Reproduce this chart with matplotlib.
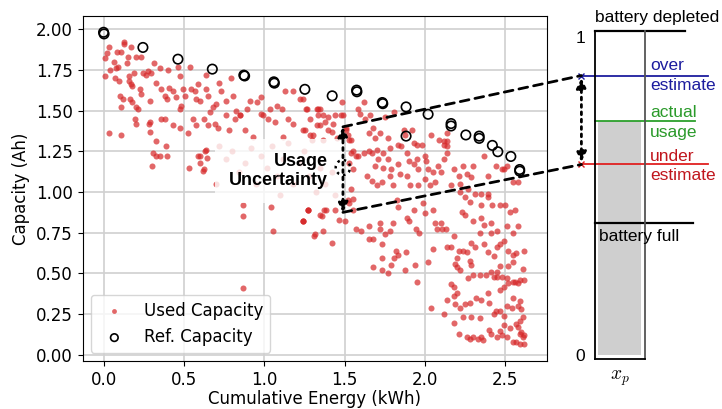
import numpy as np
import matplotlib
matplotlib.use("Agg")
import matplotlib.pyplot as plt
from matplotlib.patches import ConnectionPatch, Ellipse

plt.rcParams['mathtext.fontset'] = 'cm'

# reference capacity (open circles)
ref_energy = [0.0, 0.003, 0.245, 0.463, 0.677, 0.873, 0.878, 1.06, 1.063, 1.253, 1.423,
              1.575, 1.577, 1.735, 1.738, 1.883, 1.883, 2.02, 2.163, 2.163, 2.255,
              2.338, 2.338, 2.42, 2.454, 2.535, 2.59, 2.59]
ref_capacity = [1.98, 1.97, 1.887, 1.815, 1.754, 1.717, 1.712, 1.676, 1.668, 1.63, 1.59,
                1.625, 1.615, 1.549, 1.542, 1.522, 1.343, 1.477, 1.42, 1.405, 1.35,
                1.343, 1.329, 1.286, 1.247, 1.218, 1.138, 1.128]

# used capacity (red dots) in groups
used_early = [
    (0.006, 1.82), (0.02, 1.85), (0.037, 1.89), (0.13, 1.92), (0.125, 1.91), (0.083, 1.86),
    (0.11, 1.86), (0.17, 1.89), (0.15, 1.83), (0.20, 1.83), (0.062, 1.795), (0.012, 1.71),
    (0.042, 1.75), (0.079, 1.76), (0.09, 1.77), (0.145, 1.79), (0.07, 1.70), (0.094, 1.68),
    (0.16, 1.68), (0.17, 1.66), (0.18, 1.65), (0.10, 1.59), (0.12, 1.57), (0.108, 1.52),
    (0.165, 1.57), (0.18, 1.55), (0.20, 1.52), (0.16, 1.71), (0.19, 1.73), (0.193, 1.45),
    (0.204, 1.42), (0.214, 1.51), (0.235, 1.83), (0.245, 1.73), (0.225, 1.63), (0.235, 1.60),
    (0.266, 1.72), (0.277, 1.74), (0.297, 1.73), (0.287, 1.56), (0.287, 1.43), (0.312, 1.79),
    (0.328, 1.67), (0.349, 1.76), (0.36, 1.63), (0.38, 1.59), (0.40, 1.75), (0.395, 1.57),
    (0.41, 1.64), (0.43, 1.62), (0.453, 1.58), (0.464, 1.77), (0.474, 1.71), (0.474, 1.51),
    (0.495, 1.63), (0.484, 1.53), (0.51, 1.59), (0.536, 1.77), (0.547, 1.63), (0.568, 1.62),
    (0.578, 1.57), (0.60, 1.56), (0.588, 1.66), (0.636, 1.63), (0.65, 1.59), (0.66, 1.49),
    (0.68, 1.52), (0.70, 1.54), (0.72, 1.67), (0.64, 1.72), (0.734, 1.62), (0.765, 1.56),
    (0.796, 1.70), (0.807, 1.59), (0.827, 1.50), (0.848, 1.47), (0.89, 1.51), (0.91, 1.56),
    (0.952, 1.55), (0.983, 1.58), (0.983, 1.48), (1.025, 1.45), (1.035, 1.51), (1.066, 1.43),
    (1.077, 1.53), (1.108, 1.51), (1.129, 1.62), (1.15, 1.45), (1.18, 1.62), (1.22, 1.57),
    (1.26, 1.51), (1.285, 1.45), (1.337, 1.51), (1.326, 1.41), (1.285, 1.35), (1.243, 1.38),
    (1.18, 1.42), (1.118, 1.34), (1.35, 1.41), (1.40, 1.38), (1.45, 1.33),
]
used_lower = [
    (0.033, 1.36), (0.106, 1.35), (0.283, 1.42), (0.287, 1.37), (0.308, 1.24), (0.328, 1.22),
    (0.349, 1.22), (0.303, 1.16), (0.328, 1.31), (0.36, 1.45), (0.38, 1.45), (0.39, 1.28),
    (0.395, 1.22), (0.432, 1.41), (0.474, 1.39), (0.526, 1.36), (0.532, 1.15), (0.557, 1.45),
    (0.578, 1.41), (0.60, 1.22), (0.624, 1.14), (0.636, 1.26), (0.624, 1.45), (0.65, 1.41),
    (0.692, 1.42), (0.713, 1.39), (0.765, 1.47), (0.78, 1.38), (0.817, 1.45), (0.852, 1.47),
    (0.88, 1.38), (0.93, 1.34), (0.99, 1.47), (0.588, 1.22), (0.598, 1.18), (0.63, 1.25),
    (0.644, 1.21), (0.62, 1.13), (0.72, 1.28), (0.76, 1.20), (0.80, 1.25), (0.84, 1.12),
    (0.88, 1.18), (0.92, 1.27), (0.95, 1.05), (0.98, 1.22), (1.02, 1.15), (1.05, 1.28),
    (1.08, 1.10), (1.12, 1.20), (1.15, 1.30), (1.18, 1.05), (1.22, 1.18), (1.25, 1.25),
    (1.28, 1.10), (1.32, 1.00), (1.35, 1.15), (1.38, 1.05), (1.42, 1.12), (1.44, 0.98),
    (0.70, 1.05), (1.10, 0.98), (0.865, 0.92), (0.869, 0.85), (1.04, 0.91), (1.056, 0.76),
    (1.274, 0.89), (1.243, 0.82), (1.312, 0.73), (1.347, 0.86), (0.865, 0.41), (1.48, 1.47),
    (1.51, 1.38), (1.53, 1.32), (1.54, 1.24), (1.55, 1.14), (1.54, 1.02), (1.52, 0.95),
    (1.55, 0.89), (1.50, 0.82), (1.37, 0.89), (1.27, 0.89), (1.24, 0.82),
]
used_mid = [
    (1.24, 1.57), (1.264, 1.51), (1.326, 1.51), (1.347, 1.51), (1.336, 1.47), (1.367, 1.47),
    (1.377, 1.43), (1.40, 1.46), (1.43, 1.42), (1.44, 1.47), (1.253, 1.38), (1.305, 1.35),
    (1.295, 1.32), (1.367, 1.32), (1.42, 1.37), (1.49, 1.47), (1.486, 1.55), (1.51, 1.39),
    (1.52, 1.35), (1.54, 1.32), (1.585, 1.51), (1.596, 1.48), (1.62, 1.55), (1.63, 1.45),
    (1.66, 1.47), (1.65, 1.36), (1.68, 1.39), (1.69, 1.33), (1.72, 1.36), (1.75, 1.46),
    (1.77, 1.33), (1.81, 1.49), (1.78, 1.27), (1.83, 1.29), (1.85, 1.28), (1.87, 1.38),
    (1.876, 1.35), (1.92, 1.38), (1.93, 1.30), (1.95, 1.29), (1.98, 1.29), (2.04, 1.35),
    (2.09, 1.32), (2.12, 1.29), (2.14, 1.31), (2.14, 1.28), (1.55, 1.25), (1.57, 1.22),
    (1.53, 1.18), (1.585, 1.22), (1.62, 1.24), (1.65, 1.25), (1.67, 1.24), (1.70, 1.26),
    (1.71, 1.20), (1.74, 1.24), (1.77, 1.20), (1.69, 1.16), (1.74, 1.15), (1.79, 1.14),
    (1.835, 1.17), (1.845, 1.11), (1.89, 1.24), (1.90, 1.19), (1.93, 1.17), (1.95, 1.20),
    (1.96, 1.14), (2.0, 1.22), (2.01, 1.19), (2.02, 1.14), (2.05, 1.12), (2.08, 1.16),
    (2.10, 1.12), (2.12, 1.20), (2.14, 1.24), (2.18, 1.14), (2.21, 1.10), (2.24, 1.16),
    (2.26, 1.11), (2.29, 1.09), (2.30, 1.16), (2.37, 1.22), (2.39, 1.10), (2.44, 1.16),
    (2.48, 1.14), (2.51, 1.16), (2.55, 1.06), (2.58, 1.06), (1.64, 1.10), (1.67, 1.07),
    (1.70, 1.04), (1.73, 1.06), (1.78, 1.10), (1.80, 1.04), (1.89, 1.10), (1.91, 1.04),
    (1.96, 1.04), (2.0, 1.08), (2.03, 1.04), (2.06, 1.06), (2.16, 1.04), (2.22, 1.05),
    (2.27, 1.02), (2.35, 0.99), (2.39, 0.99), (2.49, 1.14), (2.14, 1.36), (2.12, 1.31),
]
used_late = [
    (1.24, 0.82), (1.27, 0.89), (1.315, 0.74), (1.357, 0.855), (1.367, 0.76), (1.384, 0.89),
    (1.42, 0.69), (1.44, 0.89), (1.466, 0.83), (1.53, 0.93), (1.55, 0.96), (1.57, 0.77),
    (1.60, 0.76), (1.65, 0.79), (1.65, 0.71), (1.68, 0.71), (1.72, 0.81), (1.72, 0.77),
    (1.73, 0.68), (1.75, 0.74), (1.78, 0.76), (1.80, 0.81), (1.82, 0.64), (1.835, 0.615),
    (1.81, 0.595), (1.88, 0.63), (1.73, 0.595), (1.68, 0.54), (1.73, 0.52), (1.77, 0.50),
    (1.79, 0.55), (1.875, 0.52), (1.94, 0.55), (1.95, 0.445), (1.825, 0.95), (1.835, 0.91),
    (1.886, 0.84), (1.90, 0.82), (1.93, 0.89), (1.945, 0.77), (1.965, 0.75), (1.99, 0.93),
    (2.0, 0.87), (2.05, 0.89), (2.06, 0.81), (2.10, 0.81), (2.075, 0.77), (2.105, 0.77),
    (2.13, 0.77), (2.05, 0.65), (2.02, 0.57), (2.14, 0.66), (2.16, 0.66), (2.18, 0.73),
    (2.19, 0.56), (2.20, 0.54), (2.22, 0.52), (2.20, 0.595), (2.21, 0.64), (2.24, 0.64),
    (2.26, 0.63), (2.28, 0.575), (2.29, 0.55), (2.27, 0.47), (2.30, 0.49), (2.34, 0.49),
    (2.38, 0.49), (2.41, 0.51), (2.43, 0.48), (2.45, 0.51), (2.48, 0.48), (2.51, 0.47),
    (2.55, 0.45), (2.59, 0.46), (2.62, 0.46), (2.58, 0.44), (2.49, 0.42), (2.47, 0.40),
    (2.52, 0.44), (2.56, 0.45), (2.16, 0.435), (2.18, 0.42), (2.20, 0.38), (2.14, 0.34),
    (2.18, 0.36), (2.19, 0.31), (2.22, 0.29), (2.25, 0.31), (2.28, 0.32), (2.32, 0.35),
    (2.35, 0.34), (2.39, 0.38), (2.40, 0.32), (2.44, 0.27), (2.43, 0.25), (2.47, 0.27),
    (2.49, 0.24), (2.51, 0.30), (2.54, 0.29), (2.55, 0.35), (2.58, 0.30), (2.59, 0.33),
    (2.60, 0.28), (2.61, 0.23), (2.59, 0.21), (2.57, 0.19), (2.58, 0.17), (2.60, 0.14),
    (2.62, 0.12), (2.61, 0.11), (2.59, 0.13), (2.55, 0.08), (2.57, 0.08), (2.59, 0.07),
    (2.62, 0.07), (2.51, 0.11), (2.48, 0.12), (2.45, 0.11), (2.41, 0.13), (2.40, 0.155),
    (2.35, 0.11), (2.33, 0.10), (2.30, 0.11), (2.28, 0.10), (2.26, 0.11), (2.36, 0.09),
    (2.21, 0.13), (2.18, 0.195), (2.12, 0.25), (2.04, 0.29), (2.24, 0.235), (2.29, 0.235),
    (2.34, 0.225), (2.47, 0.15), (2.49, 0.185), (2.53, 0.165), (2.22, 1.0), (2.25, 0.97),
    (2.28, 0.94), (2.31, 0.99), (2.35, 0.92), (2.39, 0.97), (2.42, 0.92), (2.23, 0.875),
    (2.25, 0.86), (2.30, 0.82), (2.35, 0.84), (2.37, 0.80), (2.41, 0.81), (2.34, 0.75),
    (2.29, 0.69), (2.31, 0.66), (2.37, 0.68), (2.39, 0.63), (2.43, 0.605), (2.45, 0.66),
    (2.47, 0.68), (2.49, 0.70), (2.52, 0.64), (2.55, 0.615), (2.57, 0.625), (2.55, 0.57),
    (2.52, 0.545), (2.61, 0.53), (2.62, 0.64), (2.47, 0.92), (2.50, 0.92), (2.53, 0.88),
    (2.56, 0.89), (2.58, 0.79), (2.55, 0.75), (2.51, 0.79), (2.45, 0.76), (2.41, 0.75),
    (2.47, 0.545), (2.45, 0.48),
]

# schematic levels on the right panel (fraction of battery)
level_depleted = 1.02
level_over = 0.88
level_actual = 0.737
level_under = 0.60
level_full = 0.415

# uncertainty span on the left plot
span_x = 1.49
span_top = 1.40
span_bottom = 0.875
span_mid = 1.15

used = np.array(used_early + used_lower + used_mid + used_late)

fig = plt.figure(figsize=(7.22, 4.09), dpi=100)
ax = fig.add_axes([0.1145, 0.1174, 0.6431, 0.8435])
ax2 = fig.add_axes([0.824, 0.1222, 0.0694, 0.8018])

ax.scatter(used[:, 0], used[:, 1], s=19, color='tab:red', alpha=0.7, linewidths=0,
           label='Used Capacity', zorder=2)
ax.scatter(ref_energy, ref_capacity, s=46, facecolors='none', edgecolors='black',
           linewidths=1.2, label='Ref. Capacity', zorder=3)

ax.set_xlim(-0.13, 2.76)
ax.set_ylim(-0.037, 2.08)
ax.set_xticks([0.0, 0.5, 1.0, 1.5, 2.0, 2.5])
ax.set_yticks(np.arange(0, 2.01, 0.25))
ax.yaxis.set_major_formatter(matplotlib.ticker.FormatStrFormatter('%.2f'))
ax.grid(True, color='#d0d0d0', linewidth=1.2)
ax.set_axisbelow(True)
ax.tick_params(labelsize=12)
ax.set_xlabel('Cumulative Energy (kWh)', fontsize=12, labelpad=1)
ax.set_ylabel('Capacity (Ah)', fontsize=12)
ax.legend(loc='lower left', fontsize=12, scatterpoints=1, markerscale=0.8)

ax.text(1.397, 1.13, 'Usage\nUncertainty', fontsize=13, fontweight='bold',
        family='Liberation Sans', ha='right', va='center', zorder=5,
        bbox=dict(boxstyle='square,pad=0.75', facecolor='white', edgecolor='none', alpha=0.8))

ax.annotate('', xy=(span_x, span_top), xytext=(span_x, span_bottom),
            arrowprops=dict(arrowstyle='<|-|>', linestyle=':', lw=2, color='black',
                            mutation_scale=15, shrinkA=0, shrinkB=0), zorder=6)
ax.add_patch(Ellipse((span_x, span_mid), 0.09, 0.092, fill=False, linestyle=':',
                     lw=1.8, color='black', zorder=6))

# right panel: battery schematic
ax2.set_xlim(0, 1)
ax2.set_ylim(-0.0125, 1.02)
ax2.bar([0.49], [level_actual], width=0.86, color='#cfcfcf', zorder=1)
ax2.spines['top'].set_visible(False)
for side in ['left', 'right', 'bottom']:
    ax2.spines[side].set_linewidth(1.3)
ax2.spines['right'].set_color('#555555')
ax2.set_yticks([0, 1])
ax2.set_yticklabels(['0', '1'], fontsize=12.5, family='Liberation Sans')
ax2.set_xticks([0.5])
ax2.set_xticklabels(['$x_p$'], fontsize=14)
ax2.tick_params(length=0, pad=7)

mark_x = -0.27
ax2.plot([0, 1.8], [level_depleted] * 2, color='black', lw=1.6, clip_on=False)
ax2.plot([0, 1.96], [level_full] * 2, color='black', lw=1.6, clip_on=False)
ax2.plot([0, 2.0], [level_actual] * 2, color='#2ca02c', lw=1.3, clip_on=False)
ax2.plot([mark_x, 2.25], [level_over] * 2, color='#1c1c9e', lw=1.3, clip_on=False)
ax2.plot([mark_x, 2.25], [level_under] * 2, color='#e02020', lw=1.3, clip_on=False)
ax2.plot([mark_x], [level_over], marker='x', color='#1c1c9e', ms=4, clip_on=False)
ax2.plot([mark_x], [level_under], marker='x', color='#e02020', ms=4, clip_on=False)

label_kw = dict(fontsize=12.5, family='Liberation Sans', va='center', ha='left',
                clip_on=False, linespacing=1.35)
ax2.text(0.0, 1.063, 'battery depleted', color='black', **label_kw)
ax2.text(0.09, 0.372, 'battery full', color='black', **label_kw)
ax2.text(1.1, level_over, 'over\nestimate', color='#1c1c9e', **label_kw)
ax2.text(1.1, level_actual - 0.005, 'actual\nusage', color='#2a9a2a', **label_kw)
ax2.text(1.1, level_under - 0.005, 'under\nestimate', color='#c0161d', **label_kw)

ax2.annotate('', xy=(mark_x, level_over - 0.008), xytext=(mark_x, level_under + 0.008),
             arrowprops=dict(arrowstyle='<|-|>', linestyle=':', lw=2, color='black',
                             mutation_scale=15, shrinkA=0, shrinkB=0),
             annotation_clip=False)

# dashed connectors between the two panels
for y_left, y_right in [(span_top, level_over), (span_bottom, level_under)]:
    con = ConnectionPatch(xyA=(span_x, y_left), coordsA=ax.transData,
                          xyB=(mark_x, y_right), coordsB=ax2.transData,
                          linestyle=(0, (3.2, 2.2)), lw=2, color='black', zorder=7)
    fig.add_artist(con)

fig.savefig('out.png', dpi=100)
